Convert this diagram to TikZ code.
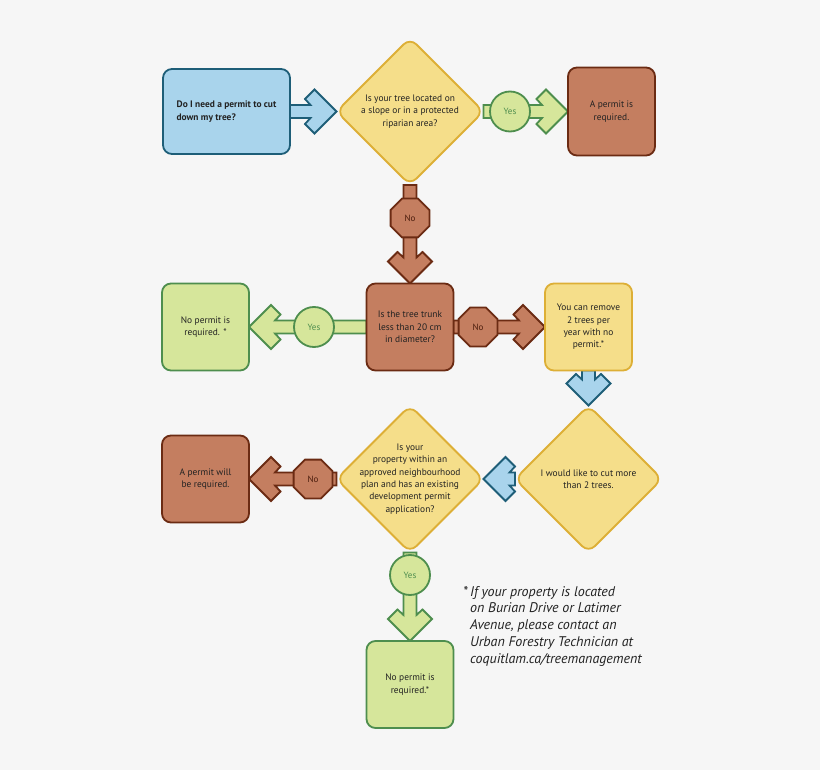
\documentclass[tikz,border=0pt]{standalone}
\usepackage{fontspec}
\setmainfont{PT Sans}
\usetikzlibrary{shapes.geometric,calc}
\definecolor{bgc}{HTML}{F6F6F6}
\definecolor{bluef}{HTML}{A9D4EC}
\definecolor{blued}{HTML}{1E5E78}
\definecolor{yelf}{HTML}{F5DE8A}
\definecolor{yeld}{HTML}{DDAF36}
\definecolor{brnf}{HTML}{C47E60}
\definecolor{brnd}{HTML}{6B2B13}
\definecolor{grnf}{HTML}{D6E69B}
\definecolor{grnd}{HTML}{4E8E4E}
\definecolor{txt}{HTML}{222222}
\definecolor{notxt}{HTML}{4A1C0C}
\pgfdeclarelayer{back}
\pgfdeclarelayer{arrows}
\pgfsetlayers{back,arrows,main}
\newcommand\blockarrow[3]{%
  \coordinate (ba-o) at ($(#3)!22pt!(#2)$);
  \coordinate (ba-b) at ($(#3)!31.5pt!(#2)$);
  \coordinate (ba-j) at ($(#3)!26pt!(#2)$);
  \path[#1] ($(#2)!6.5pt!90:(#3)$) -- ($(ba-j)!6.5pt!90:(#3)$) -- ($(ba-b)!12.5pt!90:(#3)$)
    -- ($(ba-o)!22pt!90:(#3)$) -- (#3) -- ($(ba-o)!22pt!-90:(#3)$) -- ($(ba-b)!12.5pt!-90:(#3)$)
    -- ($(ba-j)!6.5pt!-90:(#3)$) -- ($(#2)!6.5pt!-90:(#3)$) -- cycle;}
\tikzset{
  nodefont/.style={font=\fontsize{9.4}{12.3}\selectfont},
  boxbase/.style={rectangle, rounded corners=9pt, minimum width=87pt, minimum height=87pt,
    line width=1.8pt, inner sep=0pt, outer sep=0pt, text=txt, nodefont, align=center},
  bluebox/.style={boxbase, fill=bluef, draw=blued},
  brnbox/.style={boxbase, fill=brnf, draw=brnd},
  grnbox/.style={boxbase, fill=grnf, draw=grnd},
  yelbox/.style={boxbase, fill=yelf, draw=yeld},
  dia/.style={diamond, aspect=1, minimum size=147pt, rounded corners=9pt, line width=1.8pt,
    inner sep=0pt, outer sep=0pt, fill=yelf, draw=yeld},
  lab/.style={text=txt, nodefont, align=center, inner sep=0pt},
  yescirc/.style={circle, minimum size=40pt, fill=grnf, draw=grnd, line width=1.8pt,
    text=grnd, font=\fontsize{9}{10}\selectfont, inner sep=0pt, outer sep=0pt},
  nooct/.style={regular polygon, regular polygon sides=8, minimum size=42pt, fill=brnf,
    draw=brnd, line width=1.8pt, text=notxt, font=\fontsize{9}{10}\selectfont,
    inner sep=0pt, outer sep=0pt},
  barrow/.style={fill=bluef, draw=blued, line width=1.8pt},
  garrow/.style={fill=grnf, draw=grnd, line width=1.8pt},
  rarrow/.style={fill=brnf, draw=brnd, line width=1.8pt},
  foot/.style={text=txt, font=\fontsize{14}{16.7}\selectfont\itshape, align=left, inner sep=0pt}
}
\begin{document}
\begin{tikzpicture}[x=1pt,y=-1pt]
\begin{pgfonlayer}{back}
\fill[bgc] (0,0) rectangle (820,770);
\end{pgfonlayer}
\useasboundingbox (0,0) rectangle (820,770);

\node[bluebox, minimum width=127pt, minimum height=85pt, align=left,
  font=\fontsize{9.4}{12.3}\selectfont\bfseries] (start) at (226.5,111.5) {Do I need a permit to cut\\down my tree?};
\node[dia] (d1) at (410,111.5) {};
\node[lab] (d1t) at (d1.center) {Is your tree located on\\a slope or in a protected\\riparian area?};
\node[brnbox, minimum height=88pt] (req1) at (611.5,111.5) {A permit is\\required.};
\node[brnbox] (trunk) at (410,327) {Is the tree trunk\\less than 20 cm\\in diameter?};
\node[grnbox] (np1) at (205.5,327) {No permit is\\required. *};
\node[yelbox] (rem) at (588.5,327) {You can remove\\2 trees per\\year with no\\permit.*};
\node[dia] (d2) at (588.5,479) {};
\node[lab] (d2t) at (d2.center) {I would like to cut more\\than 2 trees.};
\node[dia] (d3) at (410,479) {};
\node[lab] (d3t) at (d3.center) {Is your\\property within an\\approved neighbourhood\\plan and has an existing\\development permit\\application?};
\node[brnbox] (req2) at (205.5,479) {A permit will\\be required.};
\node[grnbox] (np2) at (410,684.5) {No permit is\\required.*};

\node[yescirc] (y1) at (510,111.5) {Yes};
\node[nooct] (n1) at (410,218) {No};
\node[yescirc] (y2) at (314,327) {Yes};
\node[nooct] (n2) at (478,327) {No};
\node[nooct] (n3) at (313,479) {No};
\node[yescirc] (y3) at (410,575) {Yes};

\node[foot, anchor=north west] (fn) at (470,586) {\leavevmode\llap{*\,}If your property is located\\on Burian Drive or Latimer\\Avenue, please contact an\\Urban Forestry Technician at\\coquitlam.ca/treemanagement};

\begin{pgfonlayer}{arrows}
\blockarrow{barrow}{start.east}{d1.west}
\blockarrow{garrow}{d1.east}{req1.west}
\blockarrow{rarrow}{d1.south}{trunk.north}
\blockarrow{garrow}{trunk.west}{np1.east}
\blockarrow{rarrow}{trunk.east}{rem.west}
\blockarrow{barrow}{rem.south}{d2.north}
\blockarrow{barrow}{d2.west}{d3.east}
\blockarrow{rarrow}{d3.west}{req2.east}
\blockarrow{garrow}{d3.south}{np2.north}
\end{pgfonlayer}
\end{tikzpicture}
\end{document}
